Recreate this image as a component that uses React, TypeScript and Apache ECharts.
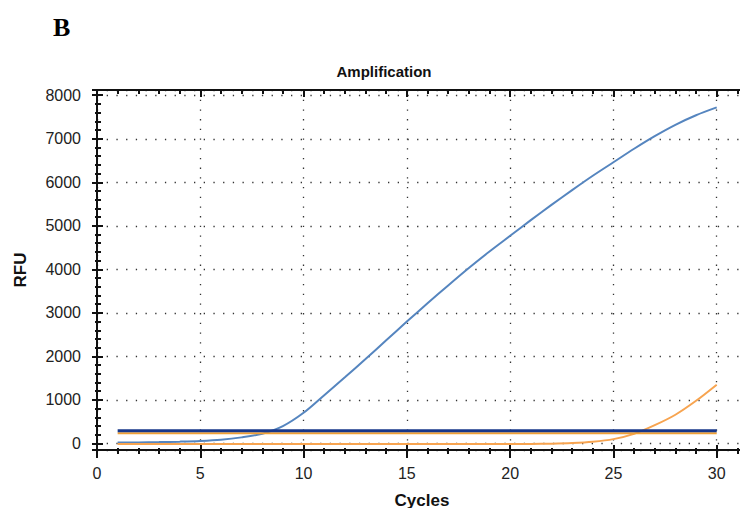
import React, { useEffect, useRef } from "react";
import * as echarts from "echarts";

const cycles = [1, 2, 3, 4, 5, 6, 7, 8, 9, 10, 11, 12, 13, 14, 15, 16, 17, 18, 19, 20, 21, 22, 23, 24, 25, 26, 27, 28, 29, 30];
const blueRFU = [20, 25, 32, 42, 57, 85, 140, 225, 400, 705, 1110, 1520, 1940, 2370, 2800, 3220, 3630, 4030, 4410, 4770, 5130, 5480, 5820, 6150, 6460, 6770, 7060, 7320, 7540, 7720];
const orangeRFU = [-15, -15, -15, -15, -15, -15, -15, -15, -15, -15, -15, -15, -15, -15, -15, -15, -15, -15, -15, -15, -12, -5, 10, 40, 100, 220, 420, 660, 980, 1350];
const thresholdCycles = [1, 30];
const blueThreshold = 290;
const orangeThreshold = 235;

const FONT = "'Liberation Sans', Arial, sans-serif";
const AX = "#111";

export default function App() {
  const ref = useRef<HTMLDivElement>(null);
  useEffect(() => {
    document.body.style.margin = "0";
    const chart = echarts.init(ref.current!, undefined, { renderer: "svg" });
    const yRange = { min: -150, max: 8120 };
    const xRange = { min: 0, max: 35, interval: 5 };
    const dotted = { color: "#333", width: 1.3, type: [1.3, 8.4] };
    const hidden = { show: false };
    const option: any = {
      animation: false,
      backgroundColor: "#fff",
      grid: { left: 97, top: 90, width: 723, height: 360 },
      xAxis: [
        {
          type: "value", position: "bottom", ...xRange,
          axisLine: { show: true, onZero: false, lineStyle: { color: AX, width: 2 } },
          axisTick: { show: true, inside: false, length: 8, lineStyle: { color: AX, width: 2 } },
          minorTick: { show: true, splitNumber: 5, length: 4, lineStyle: { color: AX, width: 2 } },
          axisLabel: {
            margin: 15, fontSize: 16, color: "#222", fontFamily: FONT,
            formatter: (v: number) => (v <= 30 ? String(v) : ""),
          },
          splitLine: { show: true, lineStyle: dotted },
        },
        {
          type: "value", position: "bottom", ...xRange,
          axisLine: { show: false, onZero: false },
          axisTick: { show: true, inside: true, length: 5, lineStyle: { color: AX, width: 2 } },
          minorTick: { show: true, splitNumber: 5, length: 2, lineStyle: { color: AX, width: 2 } },
          axisLabel: hidden, splitLine: hidden,
        },
        {
          type: "value", position: "top", ...xRange,
          axisLine: { show: true, onZero: false, lineStyle: { color: AX, width: 2 } },
          axisTick: { show: true, inside: true, length: 7, lineStyle: { color: AX, width: 2 } },
          minorTick: { show: true, splitNumber: 5, length: 4, lineStyle: { color: AX, width: 2 } },
          axisLabel: hidden, splitLine: hidden,
        },
      ],
      yAxis: [
        {
          type: "value", position: "left", ...yRange, splitNumber: 8, minInterval: 1000, maxInterval: 1000,
          axisLine: { show: true, onZero: false, lineStyle: { color: AX, width: 2 } },
          axisTick: { show: true, inside: false, length: 5, lineStyle: { color: AX, width: 2 } },
          axisLabel: {
            margin: 16, fontSize: 16, color: "#222", fontFamily: FONT,
            formatter: (v: number) => (v % 1000 === 0 ? String(v) : ""),
          },
          splitLine: { show: true, lineStyle: dotted },
        },
        {
          type: "value", position: "left", ...yRange, splitNumber: 8, minInterval: 1000, maxInterval: 1000,
          axisLine: { show: false, onZero: false },
          axisTick: { show: true, inside: true, length: 6, lineStyle: { color: AX, width: 2 } },
          axisLabel: hidden, splitLine: hidden,
        },
        {
          type: "value", position: "left", ...yRange, splitNumber: 41, minInterval: 200, maxInterval: 200,
          axisLine: { show: false, onZero: false },
          axisTick: { show: true, inside: false, length: 2, lineStyle: { color: AX, width: 2 } },
          axisLabel: hidden, splitLine: hidden,
        },
        {
          type: "value", position: "left", ...yRange, splitNumber: 41, minInterval: 200, maxInterval: 200,
          axisLine: { show: false, onZero: false },
          axisTick: { show: true, inside: true, length: 4, lineStyle: { color: AX, width: 2 } },
          axisLabel: hidden, splitLine: hidden,
        },
      ],
      series: [
        {
          type: "line", name: "Blue", xAxisIndex: 0, yAxisIndex: 0, smooth: 0.3, symbol: "none",
          lineStyle: { color: "#5585bf", width: 2 },
          data: cycles.map((c, i) => [c, blueRFU[i]]),
        },
        {
          type: "line", name: "Orange", xAxisIndex: 0, yAxisIndex: 0, smooth: 0.3, symbol: "none",
          lineStyle: { color: "#f7a450", width: 2 },
          data: cycles.map((c, i) => [c, orangeRFU[i]]),
        },
        {
          type: "line", name: "Orange threshold", xAxisIndex: 0, yAxisIndex: 0, symbol: "none",
          lineStyle: { color: "#f0a035", width: 2 },
          data: thresholdCycles.map((c) => [c, orangeThreshold]),
        },
        {
          type: "line", name: "Blue threshold", xAxisIndex: 0, yAxisIndex: 0, symbol: "none",
          lineStyle: { color: "#17378a", width: 3 },
          data: thresholdCycles.map((c) => [c, blueThreshold]),
        },
      ],
      graphic: [
        {
          type: "text", x: 53, y: 27,
          style: { text: "B", font: "bold 26px 'Liberation Serif', 'Times New Roman', serif", fill: "#000", textAlign: "left", textVerticalAlign: "middle", align: "left", verticalAlign: "middle" },
        },
        {
          type: "text", x: 384, y: 71,
          style: { text: "Amplification", font: `bold 15px ${FONT}`, fill: "#111", textAlign: "center", textVerticalAlign: "middle", align: "center", verticalAlign: "middle" },
        },
        {
          type: "text", x: 20, y: 270, rotation: Math.PI / 2,
          style: { text: "RFU", font: `bold 17px ${FONT}`, fill: "#111", textAlign: "center", textVerticalAlign: "middle", align: "center", verticalAlign: "middle" },
        },
        {
          type: "text", x: 422, y: 500,
          style: { text: "Cycles", font: `bold 17px ${FONT}`, fill: "#111", textAlign: "center", textVerticalAlign: "middle", align: "center", verticalAlign: "middle" },
        },
      ],
    };
    chart.setOption(option);
    return () => chart.dispose();
  }, []);
  return (
    <div style={{ width: 740, height: 508, overflow: "hidden", position: "relative", background: "#fff" }}>
      <div ref={ref} style={{ width: 840, height: 508 }} />
    </div>
  );
}
